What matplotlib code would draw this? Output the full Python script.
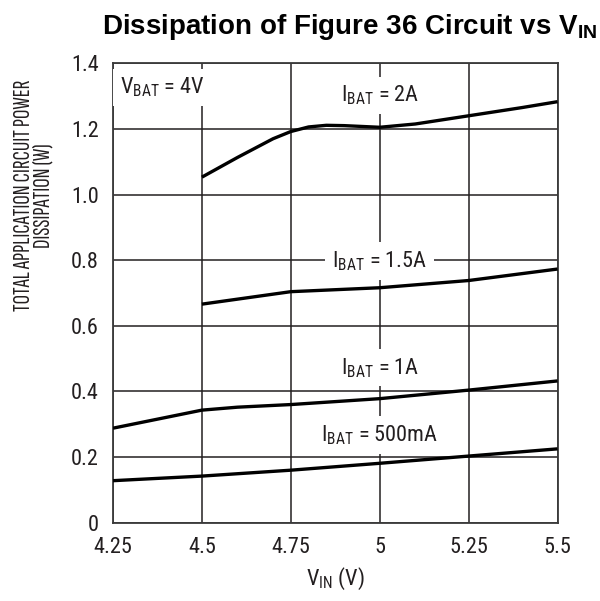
import matplotlib
matplotlib.use("Agg")
import matplotlib.pyplot as plt

FONT = ['Roboto Condensed', 'Archivo Narrow', 'DejaVu Sans']
plt.rcParams['font.family'] = FONT
plt.rcParams['mathtext.fontset'] = 'custom'
plt.rcParams['mathtext.rm'] = 'Roboto Condensed'
plt.rcParams['mathtext.it'] = 'Roboto Condensed'
plt.rcParams['mathtext.bf'] = 'Liberation Sans:bold'

# Data
vin_2a = [4.5, 4.6, 4.7, 4.75, 4.8, 4.85, 4.9, 5.0, 5.1, 5.25, 5.4, 5.5]
p_2a = [1.053, 1.113, 1.170, 1.192, 1.206, 1.211, 1.210, 1.205, 1.215, 1.240, 1.265, 1.283]
vin_15a = [4.5, 4.75, 5.0, 5.25, 5.5]
p_15a = [0.666, 0.704, 0.716, 0.738, 0.773]
vin_1a = [4.25, 4.5, 4.6, 4.75, 5.0, 5.25, 5.5]
p_1a = [0.288, 0.343, 0.352, 0.360, 0.378, 0.404, 0.432]
vin_500 = [4.25, 4.5, 4.75, 5.0, 5.25, 5.5]
p_500 = [0.128, 0.142, 0.160, 0.181, 0.203, 0.225]

xticks = [4.25, 4.5, 4.75, 5.0, 5.25, 5.5]
xticklabels = ['4.25', '4.5', '4.75', '5', '5.25', '5.5']
yticks = [0, 0.2, 0.4, 0.6, 0.8, 1.0, 1.2, 1.4]
yticklabels = ['0', '0.2', '0.4', '0.6', '0.8', '1.0', '1.2', '1.4']

txt = '#231f20'

fig = plt.figure(figsize=(6.0, 6.01), dpi=100)
ax = fig.add_axes([0.1883, 0.1303, 0.7409, 0.7644])
ax.set_xlim(4.25, 5.5)
ax.set_ylim(0, 1.4)
ax.set_xticks(xticks)
ax.set_xticklabels(xticklabels)
ax.set_yticks(yticks)
ax.set_yticklabels(yticklabels)
ax.tick_params(length=0, labelsize=16, colors=txt)
ax.tick_params(axis='y', pad=10)
ax.tick_params(axis='x', pad=10)
ax.grid(True, color='#231f20', lw=1.1, zorder=1)
ax.set_axisbelow(True)
for s in ax.spines.values():
    s.set_color('#3a3a3a')
    s.set_linewidth(1.3)

for x, y in [(vin_2a, p_2a), (vin_15a, p_15a), (vin_1a, p_1a), (vin_500, p_500)]:
    ax.plot(x, y, color='black', lw=2.4, zorder=4, solid_capstyle='butt',
            solid_joinstyle='round')

bbox = dict(facecolor='white', edgecolor='none', pad=5)
labels = [
    (4.27, 1.326, r'V$_\mathregular{BAT}$ = 4V', 'left'),
    (5.0, 1.302, r'I$_\mathregular{BAT}$ = 2A', 'center'),
    (5.0, 0.797, r'I$_\mathregular{BAT}$ = 1.5A', 'center'),
    (5.0, 0.472, r'I$_\mathregular{BAT}$ = 1A', 'center'),
    (5.0, 0.267, r'I$_\mathregular{BAT}$ = 500mA', 'center'),
]
for x, y, s, ha in labels:
    ax.text(x, y, s, ha=ha, va='center', fontsize=16, color=txt,
            bbox=bbox, zorder=3)

ax.set_xlabel(r'V$_\mathregular{IN}$ (V)', fontsize=16, color=txt, labelpad=6)
fig.text(0.056, 0.675, 'TOTAL APPLICATION CIRCUIT POWER\nDISSIPATION (W)',
         rotation=90, ha='center', va='center', fontsize=17, color=txt,
         linespacing=0.85, multialignment='center',
         family=['Sofia Sans Extra Condensed', 'Fira Sans Extra Condensed',
                 'DejaVu Sans'])

fig.text(0.995, 0.955, r'Dissipation of Figure 36 Circuit vs V$_\mathbf{IN}$',
         ha='right', va='center', fontsize=20, fontweight='bold',
         family=['Liberation Sans', 'DejaVu Sans'], color='black')

fig.savefig('out.png', dpi=100)
